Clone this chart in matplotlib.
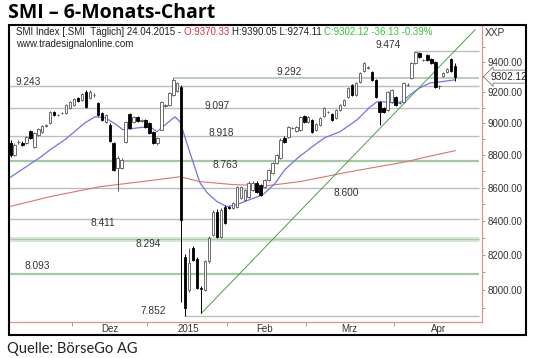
import matplotlib
matplotlib.use("Agg")
import matplotlib.pyplot as plt
from matplotlib.patches import Rectangle
from matplotlib.ticker import FixedLocator, NullFormatter, FuncFormatter

plt.rcParams['font.family'] = ['Liberation Sans', 'DejaVu Sans']

# daily OHLC, SMI, ~Nov 2014 - 24.04.2015
opens = [8878, 8803, 8880, 8878, 8878, 8953, 8853, 8928, 8947, 8985,
         9004, 9074, 9052, 9066, 9068, 9100, 9119, 9164, 9151, 9203,
         9164, 9180, 9132, 9068, 9010, 8992, 8878, 8722, 8722, 8884,
         9061, 9010, 9042, 9014, 9023, 9004, 8947, 8878, 8960, 9110,
         9119, 9183, 9209, 9235, 8191, 8003, 8244, 8180, 8010, 8003,
         8163, 8319, 8456, 8308, 8486, 8485, 8480, 8486, 8540, 8528,
         8546, 8588, 8631, 8619, 8606, 8649, 8692, 8753, 8784, 8910,
         8916, 8970, 8953, 8960, 9048, 9010, 9023, 8960, 8992, 9048,
         9070, 9061, 9036, 9087, 9119, 9170, 9248, 9183, 9268, 9340,
         9362, 9334, 9281, 9138, 9100, 9087, 9138, 9170, 9130, 9138,
         9245, 9294, 9393, 9460, 9410, 9447, 9420, 9400, 9240, 9307,
         9334, 9420, 9370.33]
highs = [8895, 8875, 8895, 8888, 8922, 8960, 8948, 8972, 8992, 8995,
         9080, 9082, 9062, 9075, 9126, 9145, 9165, 9172, 9198, 9212,
         9215, 9195, 9140, 9075, 9062, 9000, 8885, 8792, 8780, 9016,
         9068, 9048, 9050, 9030, 9030, 9010, 8953, 8916, 9145, 9125,
         9203, 9292, 9270, 9250, 8205, 8244, 8252, 8190, 8022, 8170,
         8310, 8465, 8470, 8475, 8495, 8492, 8516, 8612, 8612, 8594,
         8640, 8640, 8638, 8625, 8655, 8716, 8760, 8810, 8905, 8917,
         8986, 8980, 8986, 9050, 9055, 9048, 9030, 9004, 9042, 9106,
         9082, 9068, 9093, 9125, 9157, 9236, 9255, 9268, 9334, 9400,
         9375, 9341, 9288, 9145, 9106, 9210, 9223, 9177, 9140, 9268,
         9258, 9400, 9474, 9468, 9420, 9455, 9427, 9407, 9250, 9334,
         9360, 9427, 9390.05]
lows = [8790, 8795, 8870, 8858, 8870, 8903, 8845, 8920, 8940, 8978,
        8998, 9048, 9045, 9058, 9062, 9095, 9112, 9138, 9145, 9100,
        9158, 9172, 9048, 9015, 9002, 8880, 8700, 8582, 8715, 8878,
        8965, 9004, 9010, 9008, 8972, 8935, 8872, 8865, 8955, 9102,
        9112, 9175, 9200, 7930, 7852, 7990, 8165, 8005, 7873, 7995,
        8155, 8310, 8300, 8300, 8382, 8470, 8474, 8480, 8534, 8522,
        8540, 8582, 8570, 8552, 8600, 8643, 8686, 8747, 8778, 8878,
        8910, 8965, 8947, 8954, 9004, 9004, 8940, 8954, 8986, 9042,
        9065, 9017, 9030, 9081, 9113, 9164, 9177, 9177, 9262, 9334,
        9355, 9275, 9164, 8992, 9068, 9081, 9132, 9113, 9125, 9132,
        9240, 9288, 9387, 9428, 9405, 9407, 9387, 9228, 9220, 9300,
        9328, 9332, 9274.11]
closes = [8803, 8866, 8885, 8866, 8915, 8910, 8940, 8966, 8985, 8988,
          9074, 9055, 9055, 9068, 9119, 9138, 9157, 9145, 9190, 9106,
          9203, 9183, 9055, 9023, 9055, 8890, 8710, 8784, 8772, 9010,
          8973, 9042, 9017, 9020, 8979, 8941, 8878, 8910, 9138, 9115,
          9196, 9281, 9261, 8408, 7901, 8157, 8174, 8014, 8006, 8163,
          8302, 8456, 8308, 8468, 8390, 8478, 8510, 8606, 8606, 8588,
          8631, 8631, 8576, 8558, 8649, 8710, 8753, 8803, 8897, 8884,
          8979, 8973, 8979, 9042, 9010, 9042, 8947, 8998, 9036, 9100,
          9074, 9023, 9087, 9119, 9151, 9229, 9183, 9261, 9327, 9393,
          9367, 9281, 9170, 9074, 9074, 9203, 9216, 9119, 9132, 9261,
          9250, 9393, 9467, 9434, 9413, 9413, 9393, 9235, 9242, 9327,
          9354, 9338, 9302.12]

# moving averages (blue = short, red = long)
ma_short_x = [-0.2, 7.7, 10, 13.7, 18.8, 21.3, 23.8, 26.3, 28.3, 32.6, 35.1, 36.9,
              38.4, 41.4, 42.7, 45.2, 47.7, 49.5, 52, 54.5, 57, 60.3, 63.6, 66.6,
              69.1, 72.4, 76, 79.2, 83, 87.3, 90.6, 92.3, 93.8, 96.4, 98.6, 100.6,
              103.1, 105.7, 108.2, 112]
ma_short_y = [8661, 8790, 8834, 8897, 9004, 9042, 9036, 8998, 8960, 8973, 8979, 8947,
              8979, 9042, 9010, 8815, 8631, 8570, 8516, 8486, 8498, 8528, 8558, 8625,
              8710, 8784, 8853, 8910, 8947, 9023, 9106, 9138, 9138, 9132, 9138, 9183,
              9229, 9261, 9268, 9281]
ma_long_x = [-0.2, 10, 22.5, 35.1, 42.7, 47.7, 56, 64.6, 72.9, 79.2, 84.3, 91.3,
             99.9, 104.9, 112]
ma_long_y = [8486, 8546, 8606, 8643, 8667, 8637, 8619, 8612, 8637, 8667, 8692, 8723,
             8760, 8790, 8828]

trend_x = [48, 117]
trend_y = [7868, 9615]

levels = [9474, 9292, 9243, 9097, 8918, 8763, 8600, 8411, 8294, 8093, 7852]
level_text = ["9.474", "9.292", "9.243", "9.097", "8.918", "8.763", "8.600",
              "8.411", "8.294", "8.093", "7.852"]
level_from = [101.9, 41, -1, -1, -1, -1, -1, -1, -1, -1, 43.7]
level_kind = ["g", "gg", "g", "g", "g", "G", "g", "g", "B", "G", "g"]
label_at = [(95.1, 9514), (70.2, 9334), (4.4, 9270), (52, 9112), (53, 8938),
            (54, 8736), (84.5, 8568), (23.3, 8390), (34.6, 8262), (6.7, 8136),
            (35.9, 7882)]

month_ticks = [15.5, 34.5, 54.5, 74.5, 96.5]
month_names = ["Dez", "2015", "Feb", "Mrz", "Apr"]
month_pos = [25.1, 44.7, 64.1, 85.3, 107.7]

W, H = 540, 358
fig = plt.figure(figsize=(W / 100, H / 100), dpi=100)
ax = fig.add_axes([10 / W, 1 - 321.7 / H, 472 / W, 295.7 / H])

# level lines
for lv, x0, kind in zip(levels, level_from, level_kind):
    if kind == "B":
        ax.hlines(lv, x0, 118, color="#d3e6d3", lw=3.5, zorder=1)
        ax.hlines(lv, x0, 118, color="#a9cca9", lw=0.8, zorder=1)
    elif kind == "G":
        ax.hlines(lv, x0, 118, color="#a3c9a3", lw=1.6, zorder=1)
    elif kind == "gg":
        ax.hlines(lv, x0, 118, color="#b0c4b0", lw=1.2, zorder=1)
    else:
        ax.hlines(lv, x0, 118, color="#bdbdbd", lw=1.0, zorder=1)
for txt, (lx, ly) in zip(level_text, label_at):
    ax.text(lx, ly, txt, fontsize=7.3, color="#333333", ha="center", va="center", zorder=2)

ax.plot(ma_long_x, ma_long_y, color="#e07070", lw=0.8, zorder=3)
ax.plot(ma_short_x, ma_short_y, color="#7272ec", lw=0.9, zorder=3)
ax.plot(trend_x, trend_y, color="#4c9f4c", lw=0.7, zorder=3)

# candles
idx = list(range(len(closes)))
for i in idx:
    o, h, l, c = opens[i], highs[i], lows[i], closes[i]
    up = c >= o
    wick = "#555555" if up else "black"
    ax.vlines(i, l, h, color=wick, lw=0.7, zorder=4)
    lo, hi = min(o, c), max(o, c)
    ax.bar(i, max(hi - lo, 1.5), bottom=lo, width=0.62,
           color="white" if up else "black",
           edgecolor="#555555" if up else "black", linewidth=0.6, zorder=5)

ax.set_yscale("log")
ax.set_xlim(-0.126, 118.76)
ax.set_ylim(7823, 9641)

ax.yaxis.tick_right()
ax.yaxis.set_major_locator(FixedLocator(range(8000, 9401, 200)))
ax.yaxis.set_minor_locator(FixedLocator(range(7900, 9600, 200)))
ax.yaxis.set_major_formatter(FuncFormatter(lambda v, p: "%.2f" % v))
ax.yaxis.set_minor_formatter(NullFormatter())
ax.tick_params(axis="y", which="both", length=2.5, width=0.7, color="#d08080",
               labelsize=7, labelcolor="#333333", pad=1.5)

ax.set_xticks(month_ticks)
ax.set_xticklabels([""] * len(month_ticks))
ax.set_xticks(month_pos, minor=True)
ax.set_xticklabels(month_names, minor=True)
ax.tick_params(axis="x", which="major", length=3, width=0.7, color="#999999")
ax.tick_params(axis="x", which="minor", length=0, labelsize=7, labelcolor="#333333", pad=2)

for s in ["top", "left"]:
    ax.spines[s].set_visible(False)
for s in ["right", "bottom"]:
    ax.spines[s].set_color("#e09090")
    ax.spines[s].set_linewidth(0.9)

# last price tag and axis name
ax.annotate("9302.12", xy=(1.0, 9302.12), xycoords=("axes fraction", "data"),
            xytext=(6, 0), textcoords="offset points", fontsize=7.3, color="#222222",
            va="center", ha="left", annotation_clip=False,
            bbox=dict(boxstyle="larrow,pad=0.15", fc="white", ec="#777777", lw=0.6))
fig.text(485 / W, 1 - 33 / H, "XXP", fontsize=7.3, color="#333333", va="center")

# header line with coloured parts
fig.canvas.draw()
rend = fig.canvas.get_renderer()
parts = [("SMI Index [.SMI  Täglich] 24.04.2015 - ", "#222222"),
         ("O:9370.33 ", "#e0303a"),
         ("H:9390.05 L:9274.11 ", "#222222"),
         ("C:9302.12 -36.13 -0.39%", "#35c035")]
xpos = 16 / W
for s, col in parts:
    t = fig.text(xpos, 1 - 32 / H, s, fontsize=7, color=col, va="center")
    bb = t.get_window_extent(renderer=rend)
    xpos = bb.x1 / (W)
fig.text(16 / W, 1 - 44 / H, "www.tradesignalonline.com", fontsize=7, color="#222222", va="center")

# white margin right of the frame, then the frame itself
fig.patches.append(Rectangle((526 / W, 0), 14 / W, 1, transform=fig.transFigure,
                             fc="white", ec="none", zorder=10))
fig.patches.append(Rectangle((9 / W, 1 - 335 / H), 517 / W, 310 / H, transform=fig.transFigure,
                             fill=False, ec="black", lw=1.5, zorder=11))

fig.text(8 / W, 1 - 13 / H, "SMI – 6-Monats-Chart", fontsize=14, fontweight="bold",
         family=["Open Sans", "DejaVu Sans"], color="black", va="center")
fig.text(7 / W, 1 - 349 / H, "Quelle: BörseGo AG", fontsize=10.5,
         family=["Lato", "DejaVu Sans"], color="#222222", va="center")

fig.savefig("out.png", dpi=100, facecolor="white")
